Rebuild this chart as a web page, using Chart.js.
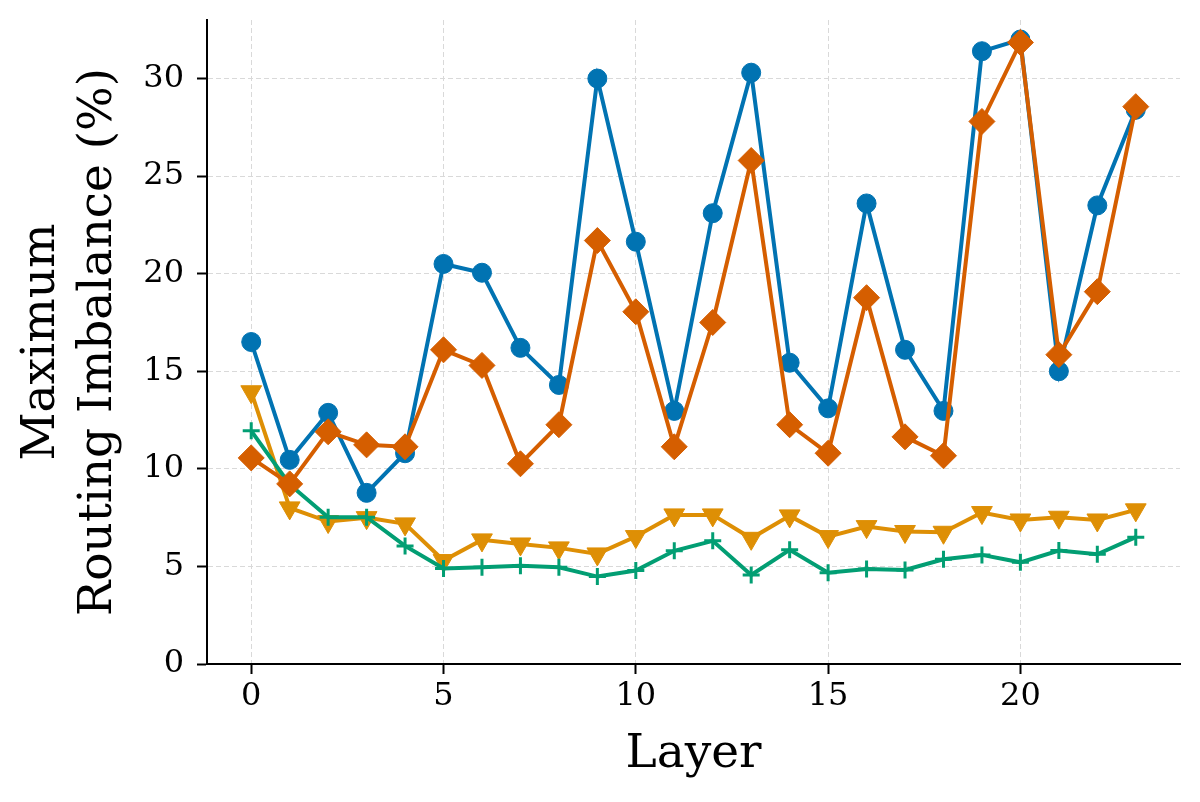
<!DOCTYPE html>
<html>
<head>
<meta charset="utf-8">
<script src="https://cdn.jsdelivr.net/npm/chart.js@4.4.1/dist/chart.umd.min.js"></script>
<style>
html,body{margin:0;padding:0;background:#fff;}
#wrap{width:1200px;height:802px;position:relative;}
</style>
</head>
<body>
<div id="wrap"><canvas id="c"></canvas></div>
<script>
const layers = [0,1,2,3,4,5,6,7,8,9,10,11,12,13,14,15,16,17,18,19,20,21,22,23];
const blueSeries = [16.5,10.46,12.87,8.77,10.8,20.5,20.05,16.2,14.3,30.0,21.64,12.97,23.1,30.3,15.44,13.1,23.6,16.1,12.97,31.4,32.0,15.0,23.5,28.4];
const redSeries = [10.56,9.23,11.9,11.23,11.13,16.1,15.3,10.26,12.26,21.7,18.05,11.13,17.5,25.8,12.26,10.8,18.77,11.64,10.67,27.8,31.85,15.85,19.08,28.56];
const orangeSeries = [13.95,8.0,7.3,7.5,7.18,5.3,6.36,6.15,5.95,5.64,6.53,7.64,7.64,6.44,7.59,6.53,7.04,6.79,6.75,7.76,7.38,7.52,7.38,7.9];
const greenSeries = [11.95,9.2,7.52,7.52,6.05,4.9,4.96,5.03,4.96,4.48,4.79,5.8,6.31,4.56,5.85,4.68,4.87,4.82,5.37,5.59,5.21,5.81,5.62,6.5];
const xTicks = [0,5,10,15,20];
const yTicks = [0,5,10,15,20,25,30];

const pts = arr => layers.map((l,i)=>({x:l,y:arr[i]}));
const FONT = "'DejaVu Serif', serif";

new Chart(document.getElementById('c'), {
  type: 'line',
  data: {
    datasets: [
      {data: pts(redSeries), borderColor:'#D55E00', backgroundColor:'#D55E00', pointBackgroundColor:'#D55E00', pointBorderColor:'#D55E00', pointStyle:'rectRot', pointRadius:13, pointBorderWidth:1, borderWidth:4, tension:0},
      {data: pts(greenSeries), borderColor:'#029E73', backgroundColor:'#029E73', pointBackgroundColor:'#029E73', pointBorderColor:'#029E73', pointStyle:'cross', pointRadius:8.5, pointBorderWidth:3, borderWidth:4, tension:0},
      {data: pts(orangeSeries), borderColor:'#DE8F05', backgroundColor:'#DE8F05', pointBackgroundColor:'#DE8F05', pointBorderColor:'#DE8F05', pointStyle:'triangle', pointRotation:180, pointRadius:12, pointBorderWidth:1, borderWidth:4, tension:0},
      {data: pts(blueSeries), borderColor:'#0173B2', backgroundColor:'#0173B2', pointBackgroundColor:'#0173B2', pointBorderColor:'#0173B2', pointStyle:'circle', pointRadius:9.5, pointBorderWidth:1, borderWidth:4, tension:0}
    ]
  },
  options: {
    responsive:true, maintainAspectRatio:false, animation:false, devicePixelRatio:1,
    layout:{autoPadding:false, padding:{top:20,right:20,left:0,bottom:0}},
    plugins:{legend:{display:false}, tooltip:{enabled:false}},
    scales:{
      x:{
        type:'linear', min:-1.15, max:24.15,
        afterBuildTicks: s => { s.ticks = xTicks.map(v=>({value:v})); },
        afterFit: s => { s.height = 138; s.paddingLeft = 0; s.paddingRight = 0; },
        grid:{color:'#d9d9d9', lineWidth:1, tickLength:10, tickColor:'#000', tickWidth:2, drawTicks:true},
        border:{display:true, color:'#000', width:2, dash:[5,3]},
        ticks:{color:'#000', font:{family:FONT, size:32}, padding:3, maxRotation:0, autoSkip:false},
        title:{display:true, text:'Layer', color:'#000', font:{family:FONT, size:47, lineHeight:1.2}, padding:{top:0,bottom:19}}
      },
      y:{
        type:'linear', min:0, max:33.0,
        afterBuildTicks: s => { s.ticks = yTicks.map(v=>({value:v})); },
        afterFit: s => { s.width = 207; s.paddingTop = 0; s.paddingBottom = 0; },
        grid:{color:'#d9d9d9', lineWidth:1, tickLength:10, tickColor:'#000', tickWidth:2, drawTicks:true},
        border:{display:true, color:'#000', width:2, dash:[5,3]},
        ticks:{color:'#000', font:{family:FONT, size:32}, padding:13, autoSkip:false},
        title:{display:true, text:['Maximum','Routing Imbalance (%)'], color:'#000', font:{family:FONT, size:47, lineHeight:1.2}, padding:{top:14,bottom:0}}
      }
    }
  }
});
</script>
</body>
</html>
